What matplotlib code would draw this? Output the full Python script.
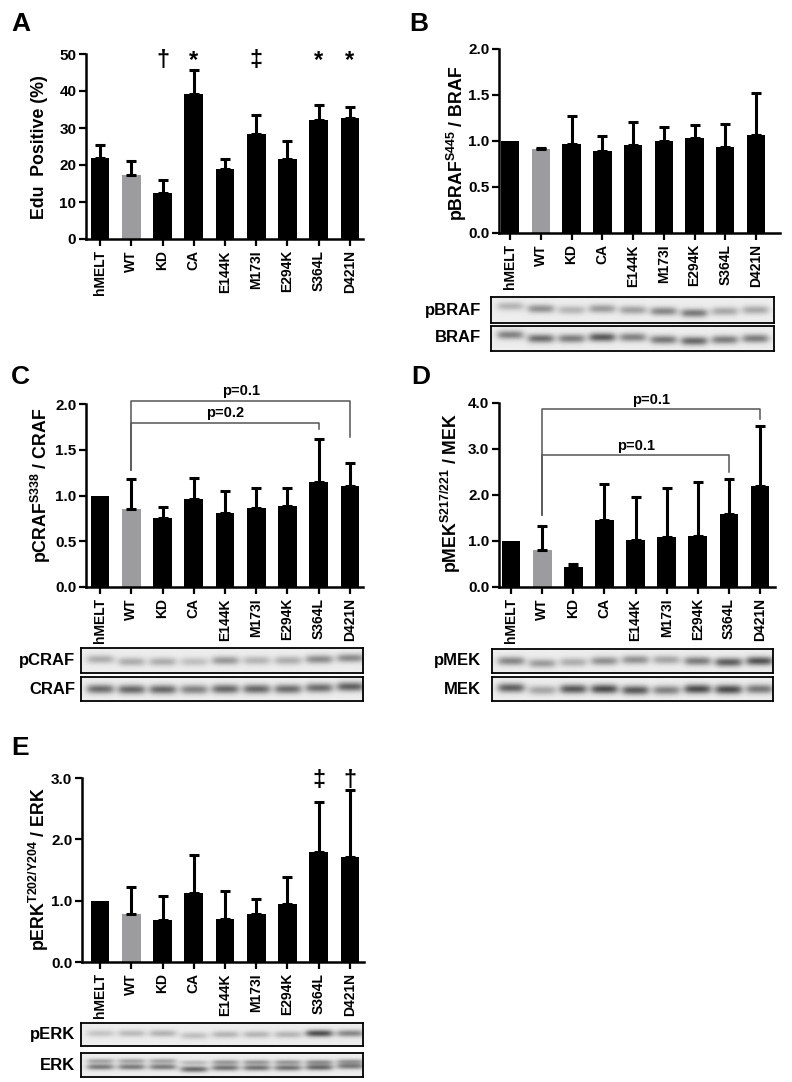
import numpy as np
import matplotlib
matplotlib.use('Agg')
import matplotlib.pyplot as plt

plt.rcParams['font.family'] = ['Liberation Sans', 'DejaVu Sans']
plt.rcParams['font.weight'] = 'bold'
plt.rcParams['mathtext.fontset'] = 'custom'
plt.rcParams['mathtext.rm'] = 'Liberation Sans:bold'
plt.rcParams['mathtext.default'] = 'rm'

W, H = 792, 1082

samples = ['hMELT', 'WT', 'KD', 'CA', 'E144K', 'M173I', 'E294K', 'S364L', 'D421N']

# A - Edu positive (%)
edu_mean = [22.0, 17.3, 12.3, 39.3, 19.0, 28.5, 21.7, 32.2, 32.6]
edu_top = [25.3, 21.0, 16.0, 45.8, 21.5, 33.5, 26.5, 36.3, 35.6]
edu_marks = ['', '', '\u2020', '*', '', '\u2021', '', '*', '*']

# B - pBRAF / BRAF
braf_mean = [1.0, 0.91, 0.97, 0.89, 0.96, 1.00, 1.03, 0.93, 1.07]
braf_top = [None, 0.92, 1.27, 1.05, 1.21, 1.15, 1.17, 1.19, 1.52]

# C - pCRAF / CRAF
craf_mean = [1.0, 0.85, 0.75, 0.96, 0.81, 0.86, 0.88, 1.15, 1.10]
craf_top = [None, 1.18, 0.87, 1.19, 1.05, 1.08, 1.08, 1.62, 1.35]

# D - pMEK / MEK
mek_mean = [1.0, 0.80, 0.44, 1.46, 1.03, 1.08, 1.10, 1.58, 2.19]
mek_top = [None, 1.32, 0.51, 2.24, 1.95, 2.15, 2.29, 2.35, 3.50]

# E - pERK / ERK
erk_mean = [1.0, 0.78, 0.68, 1.12, 0.70, 0.79, 0.94, 1.80, 1.71]
erk_top = [None, 1.22, 1.08, 1.75, 1.15, 1.03, 1.39, 2.61, 2.80]
erk_marks = ['', '', '', '', '', '', '', '\u2021', '\u2020']

# blot band darkness per lane and band height (0 = top of strip)
pbraf_band = [0.22, 0.36, 0.22, 0.32, 0.30, 0.40, 0.45, 0.27, 0.27]
pbraf_y = [0.35, 0.45, 0.50, 0.45, 0.50, 0.55, 0.62, 0.55, 0.50]
braf_band = [0.42, 0.50, 0.44, 0.58, 0.42, 0.46, 0.52, 0.44, 0.44]
braf_y = [0.35, 0.50, 0.50, 0.45, 0.45, 0.55, 0.60, 0.55, 0.50]
pcraf_band = [0.25, 0.25, 0.25, 0.18, 0.33, 0.22, 0.25, 0.38, 0.38]
pcraf_y = [0.45, 0.55, 0.55, 0.55, 0.50, 0.50, 0.50, 0.45, 0.40]
craf_band = [0.50, 0.52, 0.52, 0.42, 0.52, 0.52, 0.50, 0.50, 0.55]
craf_y = [0.50, 0.52, 0.52, 0.52, 0.50, 0.50, 0.50, 0.45, 0.40]
pmek_band = [0.40, 0.32, 0.25, 0.36, 0.36, 0.28, 0.44, 0.56, 0.60]
pmek_y = [0.50, 0.60, 0.55, 0.50, 0.45, 0.45, 0.50, 0.55, 0.50]
mek_band = [0.55, 0.28, 0.58, 0.63, 0.58, 0.42, 0.63, 0.63, 0.46]
mek_y = [0.45, 0.55, 0.50, 0.50, 0.55, 0.55, 0.50, 0.52, 0.50]
perk_band = [0.16, 0.20, 0.23, 0.18, 0.22, 0.22, 0.22, 0.62, 0.40]
perk_y = [0.45, 0.45, 0.45, 0.55, 0.50, 0.50, 0.50, 0.45, 0.45]
erk_up_band = [0.28, 0.28, 0.28, 0.20, 0.32, 0.32, 0.32, 0.36, 0.32]
erk_up_y = [0.33, 0.33, 0.33, 0.40, 0.38, 0.38, 0.38, 0.38, 0.35]
erk_lo_band = [0.45, 0.45, 0.45, 0.52, 0.48, 0.48, 0.48, 0.52, 0.45]
erk_lo_y = [0.58, 0.58, 0.58, 0.68, 0.62, 0.62, 0.62, 0.60, 0.55]

fig = plt.figure(figsize=(W / 100, H / 100), dpi=100)


def add_ax(left, top, right, bottom):
    return fig.add_axes([left / W, 1 - bottom / H, (right - left) / W, (bottom - top) / H])


def ftext(x, y, s, **kw):
    fig.text(x / W, 1 - y / H, s, **kw)


def bar_panel(ax, means, tops, ylim, yticks, fmt, xlim):
    x = np.arange(len(samples))
    colors = ['#9c9c9e' if s == 'WT' else 'black' for s in samples]
    ax.bar(x, means, width=0.6, color=colors, zorder=2)
    ex = [i for i, t in enumerate(tops) if t is not None]
    ax.errorbar([x[i] for i in ex], [means[i] for i in ex],
                yerr=[np.zeros(len(ex)), [tops[i] - means[i] for i in ex]],
                fmt='none', ecolor='black', elinewidth=2.2, capsize=3.6,
                capthick=2.2, zorder=3)
    ax.set_xlim(*xlim)
    ax.set_ylim(*ylim)
    ax.set_yticks(yticks)
    ax.set_yticklabels([fmt.format(v) for v in yticks], fontsize=11, fontweight='bold')
    ax.set_xticks(x)
    ax.set_xticklabels(samples, rotation=90, fontsize=10, fontweight='bold')
    for s in ['top', 'right']:
        ax.spines[s].set_visible(False)
    for s in ['left', 'bottom']:
        ax.spines[s].set_linewidth(1.8)
    ax.tick_params(direction='out', length=5, width=1.6, pad=2)
    ax.tick_params(axis='x', pad=3)


def blot(ax, bands, xlim, label, lx, ly):
    xs = np.linspace(xlim[0], xlim[1], 420)
    ys = np.linspace(0, 1, 40)
    X, Y = np.meshgrid(xs, ys)
    img = np.full(X.shape, 0.93)
    for dark, yc, sy in bands:
        for i, d in enumerate(dark):
            wx = 1 / (1 + np.exp(-(0.40 - np.abs(X - i)) / 0.07))
            wy = np.exp(-((Y - yc[i]) / sy) ** 2)
            img -= d * wx * wy
    ax.imshow(img, cmap='gray', vmin=0, vmax=1, extent=(xlim[0], xlim[1], 1, 0),
              aspect='auto', interpolation='bilinear')
    ax.set_xlim(*xlim)
    ax.set_ylim(1, 0)
    ax.set_xticks([])
    ax.set_yticks([])
    for s in ax.spines.values():
        s.set_linewidth(1.3)
    ftext(lx, ly, label, ha='right', va='center', fontsize=12, fontweight='bold')


def bracket(ax, x0, x1, y, y0, y1, txt, ty):
    ax.plot([x0, x0, x1, x1], [y0, y, y, y1], color='#555555', lw=1.1,
            clip_on=False, zorder=4)
    ax.text((x0 + x1) / 2, ty, txt, ha='center', va='center', fontsize=10.5,
            fontweight='bold', clip_on=False)


# ---- A
axA = add_ax(86, 54, 363, 239)
bar_panel(axA, edu_mean, edu_top, (0, 50), [0, 10, 20, 30, 40, 50], '{:d}', (-0.45, 8.42))
for i, m in enumerate(edu_marks):
    if m:
        axA.text(i, 48.3, m, ha='center', va='center', fontsize=17, fontweight='bold',
                 clip_on=False)
ftext(39, 147, 'Edu  Positive (%)', rotation=90, ha='center', va='center',
      fontsize=12.8, fontweight='bold')

# ---- B
axB = add_ax(499, 49, 780, 233)
bar_panel(axB, braf_mean, braf_top, (0, 2.0), [0, 0.5, 1.0, 1.5, 2.0], '{:.1f}', (-0.36, 8.78))
ftext(457, 143, r'pBRAF$^{S445}$ / BRAF', rotation=90, ha='center', va='center',
      fontsize=12.8, fontweight='bold')
blot(add_ax(491, 297, 774, 323), [(pbraf_band, pbraf_y, 0.17)], (-0.62, 8.59), 'pBRAF', 481, 310)
blot(add_ax(491, 326, 774, 351), [(braf_band, braf_y, 0.18)], (-0.62, 8.59), 'BRAF', 481, 338)

# ---- C
axC = add_ax(86, 404, 363, 587)
bar_panel(axC, craf_mean, craf_top, (0, 2.0), [0, 0.5, 1.0, 1.5, 2.0], '{:.1f}', (-0.45, 8.42))
bracket(axC, 1, 8, 2.03, 1.28, 1.64, 'p=0.1', 2.14)
bracket(axC, 1, 7, 1.79, 1.28, 1.73, 'p=0.2', 1.90)
ftext(41, 485, r'pCRAF$^{S338}$ / CRAF', rotation=90, ha='center', va='center',
      fontsize=12.8, fontweight='bold')
blot(add_ax(81, 648, 363, 673), [(pcraf_band, pcraf_y, 0.18)], (-0.61, 8.42), 'pCRAF', 75, 661)
blot(add_ax(81, 677, 363, 701), [(craf_band, craf_y, 0.20)], (-0.61, 8.42), 'CRAF', 75, 689)

# ---- D
axD = add_ax(499, 403, 775, 587)
bar_panel(axD, mek_mean, mek_top, (0, 4.0), [0, 1.0, 2.0, 3.0, 4.0], '{:.1f}', (-0.39, 8.48))
bracket(axD, 1, 8, 3.86, 1.57, 3.66, 'p=0.1', 4.06)
bracket(axD, 1, 7, 2.88, 1.57, 2.50, 'p=0.1', 3.07)
ftext(451, 493, r'pMEK$^{S217/221}$ / MEK', rotation=90, ha='center', va='center',
      fontsize=12.8, fontweight='bold')
blot(add_ax(492, 649, 773, 673), [(pmek_band, pmek_y, 0.19)], (-0.61, 8.42), 'pMEK', 481, 661)
blot(add_ax(492, 677, 773, 701), [(mek_band, mek_y, 0.20)], (-0.61, 8.42), 'MEK', 481, 689)

# ---- E
axE = add_ax(82, 778, 364, 962)
bar_panel(axE, erk_mean, erk_top, (0, 3.0), [0, 1.0, 2.0, 3.0], '{:.1f}', (-0.58, 8.45))
for i, m in enumerate(erk_marks):
    if m:
        axE.text(i, 2.96, m, ha='center', va='center', fontsize=17, fontweight='bold',
                 clip_on=False)
ftext(39, 869, r'pERK$^{T202/Y204}$ / ERK', rotation=90, ha='center', va='center',
      fontsize=12.8, fontweight='bold')
blot(add_ax(81, 1023, 363, 1046), [(perk_band, perk_y, 0.16)], (-0.61, 8.42), 'pERK', 75, 1035)
blot(add_ax(81, 1053, 363, 1077), [(erk_up_band, erk_up_y, 0.11), (erk_lo_band, erk_lo_y, 0.13)],
     (-0.61, 8.42), 'ERK', 75, 1065)

# panel letters
for lab, x, y in [('A', 11, 24), ('B', 409, 24), ('C', 11, 377), ('D', 411, 377), ('E', 11, 748)]:
    ftext(x, y, lab, ha='left', va='center', fontsize=19, fontweight='bold')

fig.savefig('out.png', dpi=100, facecolor='white')
